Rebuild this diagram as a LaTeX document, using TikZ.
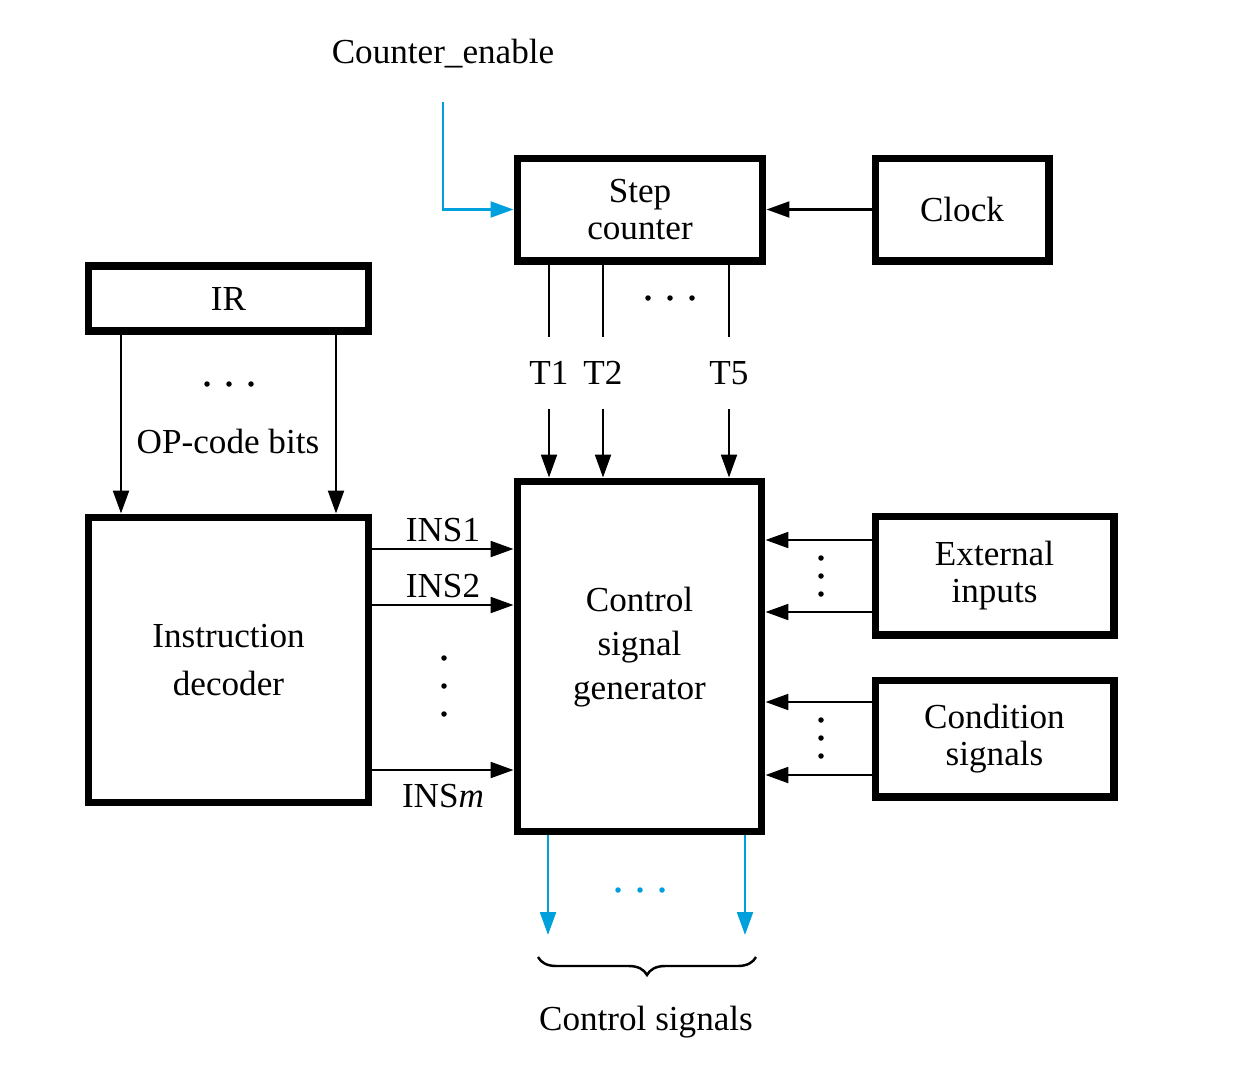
\documentclass[tikz,border=0pt]{standalone}
\usepackage{fontspec}
\setmainfont{Liberation Serif}
\usetikzlibrary{arrows.meta, positioning, decorations.pathreplacing}
\definecolor{sigblue}{RGB}{0,160,220}
\tikzset{>={Triangle[length=13pt,width=9pt]},
  blk/.style={draw, line width=4pt, align=center, font=\fontsize{20}{21}\selectfont},
  sig/.style={line width=1.4pt},
  lbl/.style={font=\fontsize{20}{24}\selectfont},
  bdot/.style={radius=0.055cm}}

\begin{document}
\begin{tikzpicture}[x=0.02cm, y=-0.02cm]
\useasboundingbox (0,0) rectangle (1234,1072);
% blocks
\node[blk, minimum width=4.92cm, minimum height=2.06cm] (sc) at (640,209.5) {Step\\counter};
\node[blk, minimum width=3.48cm, minimum height=2.06cm] (clk) at (962,209.5) {Clock};
\node[blk, minimum width=5.62cm, minimum height=1.30cm] (ir) at (228.5,298.5) {IR};
\node[blk, minimum width=5.62cm, minimum height=5.72cm, font=\fontsize{20}{27}\selectfont] (idec) at (228.5,660) {Instruction\\decoder};
\node[blk, minimum width=4.90cm, minimum height=7.02cm, font=\fontsize{20}{25}\selectfont, text depth=15pt] (csg) at (639.5,656.5) {Control\\signal\\generator};
\node[blk, minimum width=4.78cm, minimum height=2.38cm] (ext) at (994.5,575.5) {External\\inputs};
\node[blk, minimum width=4.78cm, minimum height=2.34cm] (cond) at (994.5,738.5) {Condition\\signals};

% step counter inputs
\node[lbl] (ce) at (443,54) {Counter\_enable};
\coordinate (cein) at (443,102);
\draw[sig, sigblue, ->] (cein) |- (sc.west);
\draw[sig, ->] (clk.west) -- (sc.east);

% timing signals
\foreach \n/\x in {1/549, 2/603, 5/729} {
  \node[lbl, minimum height=1.44cm, inner sep=0pt] (t\n) at (\x,373) {T\n};
  \draw[sig] (sc.south -| t\n) -- (t\n.north);
  \draw[sig, ->] (t\n.south) -- (csg.north -| t\n);
}
\foreach \x in {648,670,692} \fill (\x,298) circle[bdot];

% op-code bits
\coordinate (opl) at (121,0);
\coordinate (opr) at (336,0);
\draw[sig, ->] (ir.south -| opl) -- (idec.north -| opl);
\draw[sig, ->] (ir.south -| opr) -- (idec.north -| opr);
\foreach \x in {207,229,251} \fill (\x,384) circle[bdot];
\node[lbl] (opc) at (228,441) {OP-code bits};

% decoder outputs
\coordinate (i1) at (0,549);
\coordinate (i2) at (0,605);
\coordinate (im) at (0,770);
\draw[sig, ->] (idec.east |- i1) -- node[lbl, above] {INS1} (csg.west |- i1);
\draw[sig, ->] (idec.east |- i2) -- node[lbl, above] {INS2} (csg.west |- i2);
\draw[sig, ->] (idec.east |- im) -- node[lbl, below=4pt] {INS\textit{m}} (csg.west |- im);
\foreach \y in {658,686,714} \fill (444,\y) circle[bdot];

% external inputs and conditions
\coordinate (e1) at (0,540);
\coordinate (e2) at (0,612);
\coordinate (c1) at (0,702);
\coordinate (c2) at (0,775);
\draw[sig, ->] (ext.west |- e1) -- (csg.east |- e1);
\draw[sig, ->] (ext.west |- e2) -- (csg.east |- e2);
\draw[sig, ->] (cond.west |- c1) -- (csg.east |- c1);
\draw[sig, ->] (cond.west |- c2) -- (csg.east |- c2);
\foreach \y in {558,576,594,720,738,756} \fill (821,\y) circle[bdot];

% control signals
\coordinate (o1) at (548,935);
\coordinate (o2) at (745,935);
\draw[sig, sigblue, ->] (csg.south -| o1) -- (o1);
\draw[sig, sigblue, ->] (csg.south -| o2) -- (o2);
\foreach \x in {618,640,662} \fill[sigblue] (\x,890) circle[bdot];
\draw[sig, decorate, decoration={brace, mirror, amplitude=0.36cm}] (538,957) -- (756,957);
\node[lbl] (cs) at (646,1022) {Control signals};
\end{tikzpicture}
\end{document}
